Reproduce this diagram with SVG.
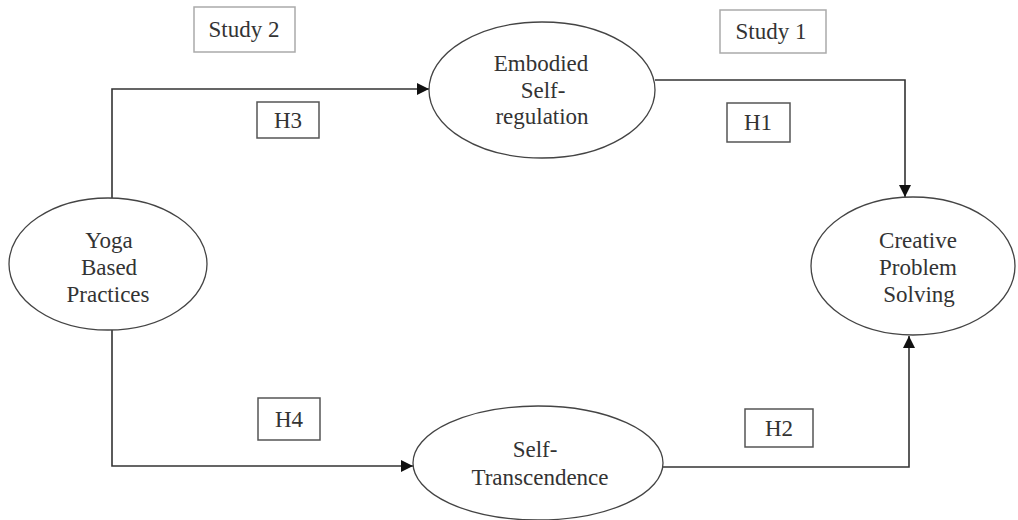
<svg xmlns="http://www.w3.org/2000/svg" width="1018" height="520" viewBox="0 0 1018 520">
<style>
text{font-family:"Liberation Serif","Times New Roman",serif;font-size:23px;fill:#333;text-anchor:middle}
.node{fill:#fff;stroke:#444;stroke-width:1.3}
.lbl{fill:#fff;stroke:#555;stroke-width:1.5}
.study{fill:#fff;stroke:#aaa;stroke-width:1.5}
.conn{fill:none;stroke:#333;stroke-width:1.6}
</style>
<defs>
<marker id="arr" viewBox="0 0 10 10" refX="10" refY="5" markerWidth="12" markerHeight="12" markerUnits="userSpaceOnUse" orient="auto">
<path d="M0,0 L10,5 L0,10 Z" fill="#111"/>
</marker>
</defs>
<rect width="1018" height="520" fill="#fff"/>
<g id="connectors">
<path class="conn" d="M112,198 V89 H429" marker-end="url(#arr)"/>
<path class="conn" d="M655,80 H905 V197" marker-end="url(#arr)"/>
<path class="conn" d="M112,330 V466 H413" marker-end="url(#arr)"/>
<path class="conn" d="M663,467 H909 V336" marker-end="url(#arr)"/>
</g>
<g id="study2"><rect class="study" x="194" y="7" width="101" height="45"/><text x="244" y="37">Study 2</text></g>
<g id="study1"><rect class="study" x="720" y="10" width="106" height="43"/><text x="771" y="39">Study 1</text></g>
<g id="h3"><rect class="lbl" x="257" y="102" width="62" height="36"/><text x="288" y="128">H3</text></g>
<g id="h1"><rect class="lbl" x="727" y="103" width="63" height="39"/><text x="758" y="130">H1</text></g>
<g id="h4"><rect class="lbl" x="258" y="398" width="62" height="42"/><text x="289" y="427">H4</text></g>
<g id="h2"><rect class="lbl" x="745" y="409" width="68" height="38"/><text x="779" y="436">H2</text></g>
<g id="embodied"><ellipse class="node" cx="542" cy="90" rx="113" ry="68"/>
<text x="541" y="71">Embodied</text><text x="543" y="98">Self-</text><text x="542" y="124">regulation</text></g>
<g id="yoga"><ellipse class="node" cx="108" cy="264" rx="99" ry="66"/>
<text x="109" y="248">Yoga</text><text x="109" y="275">Based</text><text x="108" y="302">Practices</text></g>
<g id="creative"><ellipse class="node" cx="913" cy="266" rx="102" ry="69"/>
<text x="918" y="248">Creative</text><text x="918" y="275">Problem</text><text x="919" y="302">Solving</text></g>
<g id="transcendence"><ellipse class="node" cx="538" cy="463" rx="125" ry="57"/>
<text x="535" y="457">Self-</text><text x="540" y="485">Transcendence</text></g>
</svg>
